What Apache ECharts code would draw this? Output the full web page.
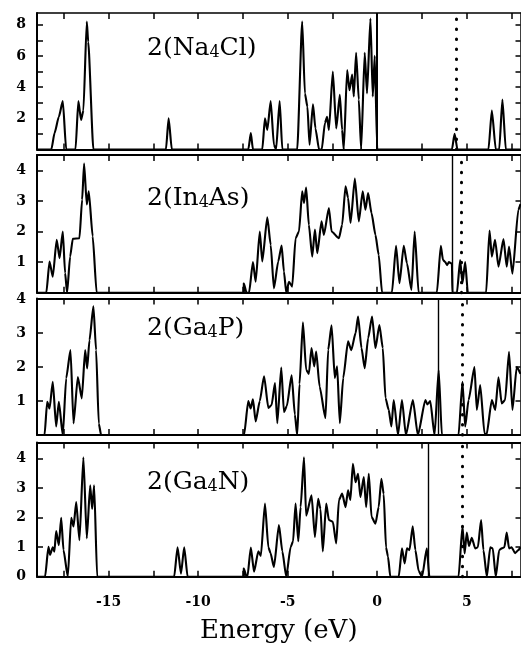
<!DOCTYPE html>
<html>
<head>
<meta charset="utf-8">
<script src="https://cdn.jsdelivr.net/npm/echarts@6/dist/echarts.min.js"></script>
<style>
  html, body { margin: 0; padding: 0; background: #fff; }
  #dosChart { width: 521px; height: 647px; }
</style>
</head>
<body>
<div id="dosChart"></div>
<script>
// 态密度数据 [能量 eV, DOS]
var na4cl = [[-19,0],[-18.2,0],[-18.02,1.05],[-17.78,2.1],[-17.56,3.1],[-17.37,0],[-16.85,0],[-16.69,3.1],[-16.54,1.9],[-16.41,2.5],[-16.22,8.2],[-16.14,6.9],[-15.85,0],[-11.8,0],[-11.65,2.0],[-11.47,0],[-7.2,0],[-7.06,1.05],[-6.94,0],[-6.42,0],[-6.27,2.0],[-6.14,1.25],[-5.95,3.1],[-5.77,0.3],[-5.65,0],[-5.45,3.1],[-5.3,0],[-4.47,0],[-4.19,8.2],[-4.04,3.6],[-3.9,2.75],[-3.78,0.3],[-3.59,2.9],[-3.45,1.35],[-3.25,0],[-3.1,0],[-2.92,1.7],[-2.8,2.1],[-2.7,1.25],[-2.48,5.0],[-2.29,1.35],[-2.09,3.5],[-1.96,1.25],[-1.87,0],[-1.68,5.1],[-1.55,3.8],[-1.4,4.8],[-1.31,3.4],[-1.18,6.2],[-1.03,3.2],[-0.9,0],[-0.7,6.2],[-0.57,3.6],[-0.38,8.4],[-0.25,3.4],[-0.14,6.0],[0,0],[4.17,0],[4.32,1.0],[4.48,0],[6.21,0],[6.4,2.5],[6.62,0],[6.81,0],[6.99,3.2],[7.18,0],[8,0]];
var in4as = [[-19,0],[-18.48,0],[-18.3,1.02],[-18.12,0.52],[-17.9,1.73],[-17.74,1.13],[-17.56,2.0],[-17.43,0.64],[-17.32,0],[-17.15,1.18],[-17.0,1.76],[-16.63,1.78],[-16.48,3.04],[-16.37,4.22],[-16.22,2.88],[-16.11,3.31],[-15.89,1.84],[-15.67,0],[-7.45,0],[-7.45,0.3],[-7.3,0],[-7.16,0],[-6.94,1.0],[-6.79,0.36],[-6.56,2.0],[-6.42,1.02],[-6.14,2.46],[-5.95,1.56],[-5.77,0.14],[-5.53,1.02],[-5.34,1.54],[-5.21,0.69],[-5.08,0],[-4.93,0.36],[-4.75,0.2],[-4.56,1.78],[-4.37,2.0],[-4.19,3.31],[-4.09,2.93],[-3.97,3.44],[-3.82,2.22],[-3.63,1.18],[-3.48,2.06],[-3.35,1.29],[-3.11,2.33],[-2.98,1.89],[-2.7,2.77],[-2.55,2.0],[-2.14,1.78],[-1.96,2.22],[-1.77,3.48],[-1.63,3.1],[-1.49,2.28],[-1.25,3.73],[-1.03,2.33],[-0.81,3.31],[-0.66,2.71],[-0.51,3.26],[-0.32,2.6],[-0.1,1.89],[0.08,1.24],[0.27,0],[0.82,0],[1.05,1.53],[1.24,0.31],[1.48,1.53],[1.66,0.96],[1.91,0.09],[2.09,2.0],[2.31,0],[3.33,0],[3.55,1.53],[3.67,1.07],[3.8,1.0],[3.9,0.9],[4.0,1.0],[4.17,0.95],[4.2,0],[4.45,0],[4.63,1.07],[4.76,0.31],[4.91,1.0],[5.06,0],[6.08,0],[6.27,2.03],[6.4,1.18],[6.58,1.73],[6.77,0.85],[7.05,1.75],[7.23,0.85],[7.36,1.51],[7.55,0.62],[7.88,2.71],[8,2.9]];
var ga4p = [[-19,0],[-18.58,0],[-18.43,0.98],[-18.3,0.78],[-18.12,1.57],[-17.93,0.25],[-17.78,0.98],[-17.56,0],[-17.37,1.67],[-17.13,2.5],[-16.96,0.34],[-16.72,1.71],[-16.5,1.08],[-16.31,2.5],[-16.2,1.96],[-16.07,2.79],[-15.85,3.79],[-15.7,2.5],[-15.55,0.34],[-15.42,0],[-7.44,0],[-7.2,1.0],[-7.07,0.78],[-6.94,1.05],[-6.79,0.4],[-6.56,1.0],[-6.32,1.73],[-6.08,0.8],[-5.9,0.88],[-5.71,1.53],[-5.58,0.35],[-5.36,1.99],[-5.21,0.68],[-5.05,0.85],[-4.78,1.76],[-4.6,0.6],[-4.47,0],[-4.34,1.5],[-4.15,3.32],[-3.97,1.92],[-3.82,1.8],[-3.67,2.56],[-3.52,2.02],[-3.41,2.46],[-3.22,1.43],[-2.89,0.5],[-2.74,2.51],[-2.55,3.23],[-2.37,1.68],[-2.24,2.02],[-2.09,0.35],[-1.9,1.68],[-1.63,2.76],[-1.45,2.5],[-1.21,3.0],[-1.07,3.49],[-0.88,2.56],[-0.7,1.97],[-0.51,2.85],[-0.29,3.49],[-0.1,2.56],[0.12,3.24],[0.31,2.56],[0.46,1.09],[0.64,0.74],[0.79,0.25],[0.92,1.03],[1.16,0],[1.38,1.03],[1.6,0],[1.99,1.03],[2.27,0],[2.69,1.03],[2.8,0.9],[2.96,1.0],[3.2,0],[3.43,1.91],[3.61,0],[4.54,0],[4.76,1.57],[4.91,0.25],[5.1,1.03],[5.43,2.0],[5.56,0.74],[5.75,1.47],[5.99,0.05],[6.1,0],[6.4,1.03],[6.59,0.74],[6.77,1.7],[6.95,0.93],[7.14,1.03],[7.36,2.45],[7.55,0.74],[7.79,2.0],[8,1.8]];
var ga4n = [[-19,0],[-18.55,0],[-18.36,1.01],[-18.27,0.74],[-18.12,1.0],[-18.03,0.85],[-17.93,1.55],[-17.78,1.07],[-17.65,2.0],[-17.52,0.9],[-17.28,0],[-17.09,2.0],[-16.96,1.7],[-16.81,2.53],[-16.63,1.24],[-16.41,4.05],[-16.22,1.3],[-16.03,3.1],[-15.92,2.3],[-15.81,3.1],[-15.64,0],[-11.34,0],[-11.15,1.0],[-10.96,0.1],[-10.78,1.0],[-10.59,0],[-7.45,0],[-7.45,0.28],[-7.3,0],[-7.25,0],[-7.06,0.99],[-6.88,0.17],[-6.64,0.86],[-6.5,0.7],[-6.27,2.48],[-6.08,1.0],[-5.96,0.8],[-5.77,0.33],[-5.49,1.75],[-5.3,0.86],[-5.08,0],[-4.84,1.0],[-4.7,1.2],[-4.56,2.48],[-4.41,1.2],[-4.28,2.36],[-4.09,4.05],[-3.97,2.07],[-3.67,2.76],[-3.48,1.35],[-3.3,2.64],[-3.17,2.3],[-3.04,0.86],[-2.85,2.48],[-2.7,1.92],[-2.48,1.86],[-2.29,1.13],[-2.14,2.6],[-1.96,2.82],[-1.77,2.36],[-1.63,2.93],[-1.5,2.6],[-1.36,3.83],[-1.21,3.2],[-1.07,3.49],[-0.94,2.7],[-0.75,3.38],[-0.62,2.36],[-0.47,3.49],[-0.32,2.03],[-0.1,1.8],[0.08,2.36],[0.23,3.32],[0.36,2.8],[0.49,1.0],[0.6,0.68],[0.73,0],[1.2,0],[1.38,0.96],[1.53,0.45],[1.66,0.96],[1.8,0.9],[1.98,1.71],[2.13,0.9],[2.31,0.2],[2.5,0],[2.77,0.96],[2.91,0],[4.54,0],[4.76,1.71],[4.88,0.79],[5.0,1.5],[5.12,1.04],[5.28,1.32],[5.47,0.96],[5.62,1.0],[5.8,1.92],[5.93,0.9],[6.12,0],[6.31,1.0],[6.45,0.96],[6.62,0],[6.81,0.9],[6.95,0.96],[7.1,1.0],[7.23,1.5],[7.36,0.96],[7.5,1.0],[7.7,0.8],[7.88,0.9],[8,1.0]];

var panelNames = [["2(Na", "4", "Cl)"], ["2(In", "4", "As)"], ["2(Ga", "4", "P)"], ["2(Ga", "4", "N)"]];
var panelData = [na4cl, in4as, ga4p, ga4n];
var solidLines = [0, 4.17, 3.43, 2.87];   // 实线
var dottedLines = [4.39, 4.67, 4.76, 4.76]; // 点线
var yMax = [8.75, 4.5, 4.02, 4.55];
var yTicks = [[1,2,3,4,5,6,7,8], [1,2,3,4], [1,2,3,4], [1,2,3,4]];
var yLabels = [[2,4,6,8], [1,2,3,4], [1,2,3,4], [0,1,2,3,4]];
var xTicks = [-17.5, -15, -12.5, -10, -7.5, -5, -2.5, 0, 2.5, 5, 7.5];
var xLabels = [-15, -10, -5, 0, 5];

var myChart = echarts.init(document.getElementById("dosChart"));

var gridTop = [13, 155, 298.5, 442.5];
var gridHeight = [136.5, 137.7, 136.5, 134.2];
var labelY = [53, 203, 333, 487];

var lineColor = "#000";
var grids = [], xAxes = [], yAxes = [], series = [], texts = [];

for (var i = 0; i < 4; i++) {
  grids.push({ left: 37, width: 483.5, top: gridTop[i], height: gridHeight[i] });
  var last = i === 3;
  // 底部x轴
  xAxes.push({
    type: "value", gridIndex: i, min: -19, max: 8, position: "bottom",
    axisLine: { show: true, onZero: false, lineStyle: { color: lineColor, width: 2 } },
    axisTick: { show: true, inside: true, length: 6, customValues: xTicks, lineStyle: { color: lineColor, width: 1.5 } },
    axisLabel: {
      show: last, customValues: xLabels, margin: 19, color: "#000",
      fontFamily: "DejaVu Serif", fontWeight: "bold", fontSize: 14,
    },
    splitLine: { show: false },
    name: last ? "Energy (eV)" : "",
    nameLocation: "middle", nameGap: 42,
    nameTextStyle: { fontFamily: "DejaVu Serif", fontSize: 26, color: "#000" },
  });
  // 顶部x轴（只画刻度）
  xAxes.push({
    type: "value", gridIndex: i, min: -19, max: 8, position: "top",
    axisLine: { show: true, onZero: false, lineStyle: { color: lineColor, width: i === 0 ? 1.5 : 2 } },
    axisTick: { show: true, inside: true, length: 6, customValues: xTicks, lineStyle: { color: lineColor, width: 1.5 } },
    axisLabel: { show: false },
    splitLine: { show: false },
  });
  yAxes.push({
    type: "value", gridIndex: i, min: 0, max: yMax[i], position: "left",
    axisLine: { show: true, onZero: false, lineStyle: { color: lineColor, width: 2 } },
    axisTick: { show: true, inside: true, length: 6, customValues: yTicks[i], lineStyle: { color: lineColor, width: 1.5 } },
    axisLabel: {
      customValues: yLabels[i], margin: 11, color: "#000",
      fontFamily: "DejaVu Serif", fontWeight: "bold", fontSize: 14,
    },
    splitLine: { show: false },
  });
  yAxes.push({
    type: "value", gridIndex: i, min: 0, max: yMax[i], position: "right",
    axisLine: { show: true, onZero: false, lineStyle: { color: lineColor, width: 1.5 } },
    axisTick: { show: true, inside: true, length: 5, customValues: yTicks[i], lineStyle: { color: lineColor, width: 1.5 } },
    axisLabel: { show: false },
    splitLine: { show: false },
  });
  series.push({
    type: "line",
    xAxisIndex: i * 2,
    yAxisIndex: i * 2,
    data: panelData[i],
    showSymbol: false,
    symbol: "none",
    smooth: 0.2,
    smoothMonotone: "x",
    lineStyle: { color: lineColor, width: 2.1, join: "round" },
    silent: true,
    animation: false,
    markLine: {
      silent: true,
      symbol: "none",
      label: { show: false },
      animation: false,
      data: [
        { xAxis: solidLines[i], lineStyle: { color: lineColor, width: i === 0 ? 2 : 1.4, type: "solid" } },
        { xAxis: dottedLines[i], lineStyle: { color: lineColor, width: 3, type: [0.5, 9.5], cap: "round" } },
      ],
    },
  });
  texts.push({
    type: "text",
    left: 147,
    top: labelY[i] - 17,
    style: {
      text: "{a|" + panelNames[i][0] + "}{s|" + panelNames[i][1] + "}{a|" + panelNames[i][2] + "}",
      rich: {
        a: { fontFamily: "DejaVu Serif", fontSize: 25, lineHeight: 31, fill: "#000", verticalAlign: "bottom" },
        s: { fontFamily: "DejaVu Serif", fontSize: 16, lineHeight: 10, fill: "#000", verticalAlign: "bottom" },
      },
    },
  });
}

var option = {
  backgroundColor: "#fff",
  animation: false,
  grid: grids,
  xAxis: xAxes,
  yAxis: yAxes,
  series: series,
  graphic: texts,
};
myChart.setOption(option);
</script>
</body>
</html>
